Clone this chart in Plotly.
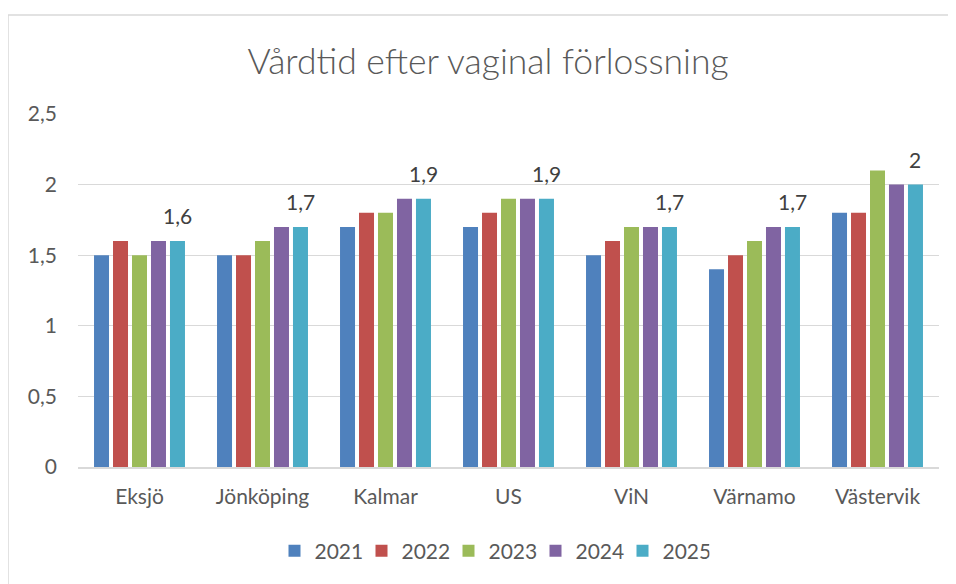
import plotly.graph_objects as go

categories = ["Eksjö", "Jönköping", "Kalmar", "US", "ViN", "Värnamo", "Västervik"]
years = ["2021", "2022", "2023", "2024", "2025"]
v2021 = [1.5, 1.5, 1.7, 1.7, 1.5, 1.4, 1.8]
v2022 = [1.6, 1.5, 1.8, 1.8, 1.6, 1.5, 1.8]
v2023 = [1.5, 1.6, 1.8, 1.9, 1.7, 1.6, 2.1]
v2024 = [1.6, 1.7, 1.9, 1.9, 1.7, 1.7, 2.0]
v2025 = [1.6, 1.7, 1.9, 1.9, 1.7, 1.7, 2.0]
series = [v2021, v2022, v2023, v2024, v2025]
colors = ["#4F81BD", "#C0504D", "#9BBB59", "#8064A2", "#4BACC6"]

FONT = "Lato, 'Open Sans', sans-serif"
OFF = 8  # page body margin

W, H = 956, 584
# window-pixel targets converted to figure coordinates
L = 78 - OFF
T = 114 - OFF
R = W - (939 - OFF)
B = H - (467 - OFF)
pw, ph = W - L - R, H - T - B

BARGAP, GROUPGAP = 0.228, 0.21

fig = go.Figure()
for yr, vals, col in zip(years, series, colors):
    fig.add_trace(go.Bar(x=categories, y=vals, name=yr,
                         marker=dict(color=col, line=dict(width=0))))

# data labels for the last series, centred over its bars
catw = pw / len(categories)
last_shift = catw * (1 - BARGAP) * (4.5 / len(years) - 0.5)
annotations = [
    dict(x=c, y=v, xref="x", yref="y", text=f"{v:g}".replace(".", ","),
         showarrow=False, xanchor="center", yanchor="bottom",
         xshift=last_shift, yshift=11,
         font=dict(family=FONT, size=21, color="#404040"))
    for c, v in zip(categories, v2025)
]

bx = (8 - OFF - L) / pw
by = (H - B - (15 - OFF)) / ph
border = dict(color="#D9D9D9", width=1.5)
shapes = [
    dict(type="line", xref="paper", yref="paper", x0=bx, x1=bx, y0=by, y1=-2, line=border, layer="below"),
    dict(type="line", xref="paper", yref="paper", x0=bx, x1=2, y0=by, y1=by, line=border, layer="below"),
]

fig.update_layout(
    width=W, height=H,
    margin=dict(l=L, r=R, t=T, b=B, pad=0),
    paper_bgcolor="white", plot_bgcolor="white",
    separators=", ",
    barmode="group", bargap=BARGAP, bargroupgap=GROUPGAP,
    font=dict(family=FONT, size=21, color="#595959"),
    title=dict(text="Vårdtid efter vaginal förlossning",
               font=dict(family="'Lato Light', Lato, sans-serif", size=35.5, color="#595959"),
               x=(488 - OFF - L) / pw, xref="paper", xanchor="center",
               y=1 - (62 - OFF) / H, yref="container", yanchor="middle"),
    showlegend=True,
    legend=dict(orientation="h", x=(492 - OFF - L) / pw, xanchor="center",
                y=(H - B - (551 - OFF)) / ph, yanchor="middle",
                font=dict(family=FONT, size=21, color="#595959"),
                itemwidth=30, entrywidth=42, traceorder="normal"),
    yaxis=dict(range=[0, 2.5], dtick=0.5, showgrid=True, gridcolor="#D9D9D9", gridwidth=1.3,
               zeroline=False, showline=False, ticks="", ticklabelstandoff=20,
               tickfont=dict(family=FONT, size=21, color="#595959")),
    xaxis=dict(showline=True, linecolor="#D9D9D9", linewidth=1.5, ticks="",
               ticklabelstandoff=10, tickfont=dict(family=FONT, size=21, color="#595959")),
    annotations=annotations,
    shapes=shapes,
)

fig.write_html("out.html")
